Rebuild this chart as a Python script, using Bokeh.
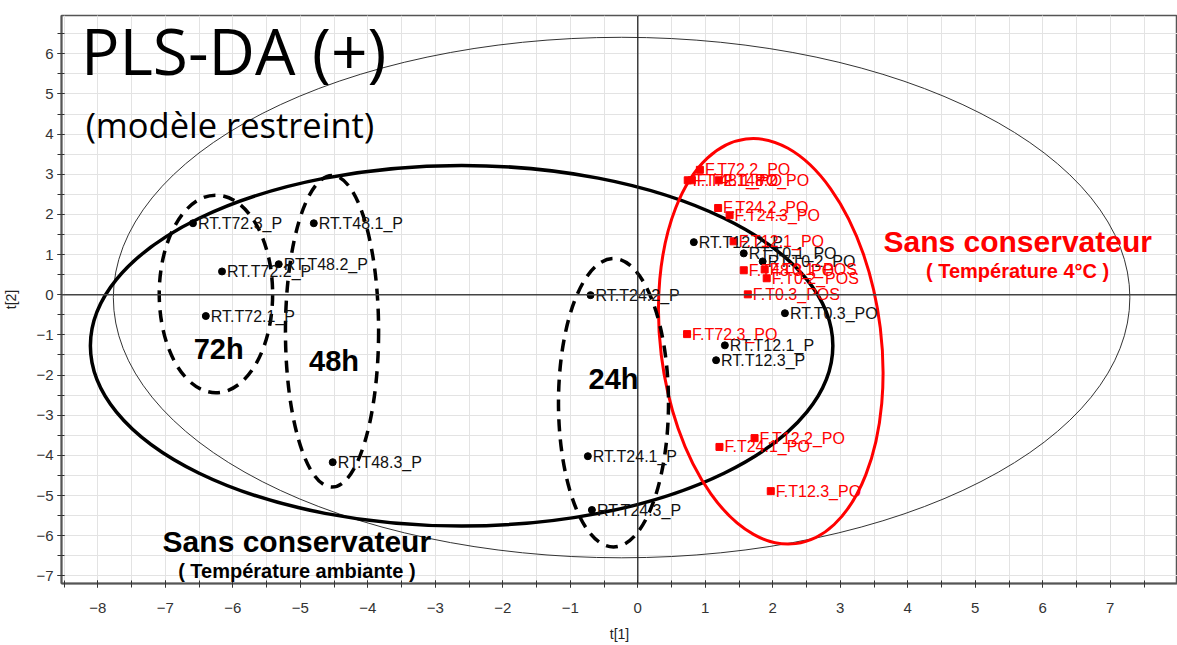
import math
from bokeh.plotting import figure
from bokeh.models import ColumnDataSource, Span, Label, SingleIntervalTicker, Range1d
from bokeh.core.properties import value
from bokeh.embed import file_html
from bokeh.resources import INLINE

# ---- data: scores (t[1], t[2]) ----
black_labels = ["RT.T72.3_P", "RT.T72.2_P", "RT.T72.1_P", "RT.T48.1_P", "RT.T48.2_P",
                "RT.T48.3_P", "RT.T24.1_P", "RT.T24.2_P", "RT.T24.3_P", "RT.T12.1_P",
                "RT.T12.2_P", "RT.T12.3_P", "RT.T0.1_PO", "RT.T0.2_PO", "RT.T0.3_PO"]
black_t1 = [-6.59, -6.16, -6.40, -4.80, -5.32, -4.52, -0.74, -0.70, -0.68, 1.29,
            0.83, 1.16, 1.57, 1.85, 2.18]
black_t2 = [1.78, 0.58, -0.53, 1.78, 0.76, -4.17, -4.02, -0.01, -5.36, -1.26,
            1.31, -1.63, 1.03, 0.83, -0.46]

red_labels = ["F.T72.2_PO", "F.T72.1_PO", "F.T48.1_PO", "F.T48.2_PO", "F.T24.2_PO",
              "F.T24.3_PO", "F.T12.1_PO", "F.T48.3_PO", "F.T0.1_POS", "F.T0.2_POS",
              "F.T0.3_POS", "F.T72.3_PO", "F.T12.2_PO", "F.T24.1_PO", "F.T12.3_PO"]
red_t1 = [0.92, 0.74, 0.80, 1.20, 1.19, 1.36, 1.42, 1.57, 1.88, 1.91,
          1.63, 0.73, 1.73, 1.21, 1.97]
red_t2 = [3.11, 2.85, 2.85, 2.85, 2.16, 1.98, 1.33, 0.61, 0.63, 0.41,
          0.01, -0.98, -3.57, -3.79, -4.89]

# ---- ellipses: Hotelling T2, groups ----
ell_names = ["T2", "ambiante", "4C", "72h", "48h", "24h"]
ell_t1 = [-0.24, -2.61, 1.97, -6.25, -4.53, -0.36]
ell_t2 = [-0.07, -1.27, -1.16, 0.02, -0.91, -2.69]
ell_w = [15.06, 11.00, 3.27, 1.68, 1.38, 1.63]
ell_h = [12.96, 8.98, 10.15, 4.92, 7.76, 7.19]
ell_angle = [0, 0, 7, 0, 0, 0]

LAB_FONT = "Liberation Sans"

p = figure(width=1177, height=645,
           x_range=Range1d(-8.538, 7.996), y_range=Range1d(-7.19, 6.953),
           output_backend="svg", toolbar_location=None,
           min_border_left=61, min_border_right=0, min_border_top=15, min_border_bottom=62,
           background_fill_color="white", border_fill_color="white")

p.outline_line_color = "#555555"
p.outline_line_width = 1.5

for ax, lab in ((p.xaxis, "t[1]"), (p.yaxis, "t[2]")):
    ax.ticker = SingleIntervalTicker(interval=1, num_minor_ticks=2)
    ax.axis_label = lab
    ax.axis_label_text_font = LAB_FONT
    ax.axis_label_text_font_style = "normal"
    ax.axis_label_text_font_size = "14px"
    ax.axis_label_text_color = "#222222"
    ax.major_label_text_font = LAB_FONT
    ax.major_label_text_font_size = "15px"
    ax.major_label_text_color = "#333333"
    ax.axis_line_color = "#555555"
    ax.axis_line_width = 2
    ax.major_tick_line_color = "#333333"
    ax.minor_tick_line_color = "#333333"
    ax.major_tick_in = 3
    ax.major_tick_out = 4
    ax.minor_tick_in = 3
    ax.minor_tick_out = 4
p.xaxis.major_label_standoff = 15
p.xaxis.axis_label_standoff = 10
p.yaxis.major_label_standoff = 4
p.yaxis.axis_label_standoff = 14

for g in (p.xgrid, p.ygrid):
    g.grid_line_color = "#e3e3e3"
    g.minor_grid_line_color = "#e3e3e3"
    g.grid_line_width = 1
    g.minor_grid_line_width = 1

p.add_layout(Span(location=0, dimension="height", line_color="#222222", line_width=1.3))
p.add_layout(Span(location=0, dimension="width", line_color="#444444", line_width=1.5))

# ellipses
def ell(i, **kw):
    p.ellipse(x=[ell_t1[i]], y=[ell_t2[i]], width=[ell_w[i]], height=[ell_h[i]],
              angle=[math.radians(ell_angle[i])], fill_color=None, **kw)

ell(0, line_color="#333333", line_width=1)
ell(1, line_color="black", line_width=3.5)
ell(2, line_color="#ff0000", line_width=3)
for i in (3, 4, 5):
    ell(i, line_color="black", line_width=3.5, line_dash="12 8")

# points
bsrc = ColumnDataSource(dict(x=black_t1, y=black_t2, t=black_labels))
rsrc = ColumnDataSource(dict(x=red_t1, y=red_t2, t=red_labels))
p.scatter("x", "y", source=bsrc, marker="circle", size=7, color="black")
p.scatter("x", "y", source=rsrc, marker="square", size=7, color="#ff0000")
p.text("x", "y", text="t", source=bsrc, x_offset=5, text_baseline="middle",
       text_font=value(LAB_FONT), text_font_size="16px", text_color="#111111")
p.text("x", "y", text="t", source=rsrc, x_offset=5, text_baseline="middle",
       text_font=value(LAB_FONT), text_font_size="16px", text_color="#ff0000")

# annotations
def lab(x, y, text, size, color="black", font="Liberation Sans", style="normal", align="left"):
    p.add_layout(Label(x=x, y=y, text=text, text_font=font, text_font_size=size,
                       text_font_style=style, text_color=color, text_align=align,
                       text_baseline="alphabetic"))

lab(-8.25, 6.07, "PLS-DA (+)", "64px", font="Open Sans")
lab(-8.18, 4.23, "(modèle restreint)", "34.5px", font="Open Sans")
lab(-6.21, -1.34, "72h", "29px", style="bold", align="center")
lab(-4.50, -1.66, "48h", "29px", style="bold", align="center")
lab(-0.36, -2.11, "24h", "29px", style="bold", align="center")
lab(3.64, 1.32, "Sans conservateur", "30px", color="#ff0000", style="bold")
lab(4.27, 0.60, "( Température 4°C )", "20px", color="#ff0000", style="bold")
lab(-7.04, -6.15, "Sans conservateur", "30px", style="bold")
lab(-6.81, -6.87, "( Température ambiante )", "20px", style="bold")

open("out.html", "w").write(file_html(p, INLINE))
